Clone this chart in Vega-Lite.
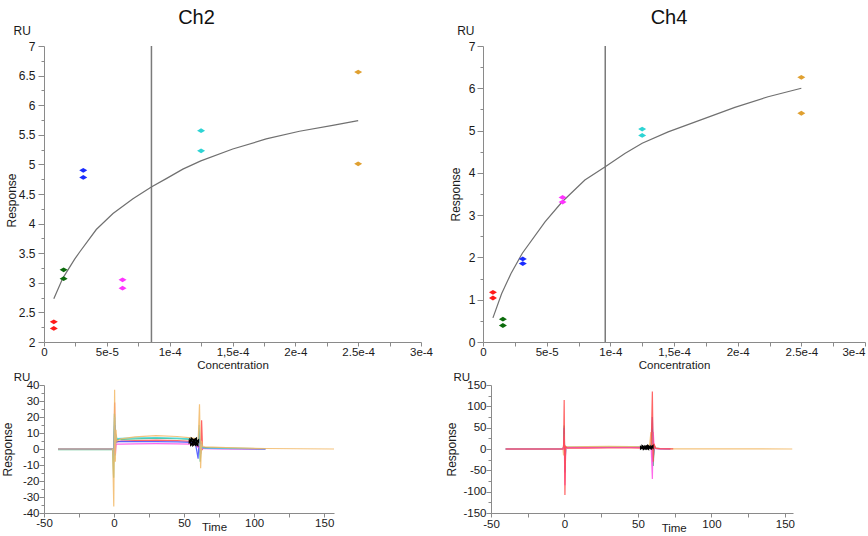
{
"$schema": "https://vega.github.io/schema/vega-lite/v6.json",
"padding": {"left": 1, "top": 8, "right": 0, "bottom": 0},
"config": {
  "font": "Liberation Sans",
  "view": {"stroke": null},
  "axis": {"grid": false, "domainColor": "#8a8a8a", "tickColor": "#8a8a8a", "labelColor": "#1a1a1a", "titleColor": "#1a1a1a", "labelFont": "Liberation Sans", "titleFont": "Liberation Sans", "titleFontWeight": "normal", "labelFontSize": 12, "titleFontSize": 12, "labelFlush": false, "labelOverlap": false},
  "title": {"font": "Liberation Sans", "fontWeight": "normal", "fontSize": 20, "color": "#111111"}
},
"datasets": {
  "pts2": [
    {"grp":"c1","conc":0.0000078125,"resp":2.34},{"grp":"c1","conc":0.0000078125,"resp":2.23},
    {"grp":"c2","conc":0.000015625,"resp":3.22},{"grp":"c2","conc":0.000015625,"resp":3.07},
    {"grp":"c3","conc":0.00003125,"resp":4.90},{"grp":"c3","conc":0.00003125,"resp":4.78},
    {"grp":"c4","conc":0.0000625,"resp":3.05},{"grp":"c4","conc":0.0000625,"resp":2.91},
    {"grp":"c5","conc":0.000125,"resp":5.57},{"grp":"c5","conc":0.000125,"resp":5.23},
    {"grp":"c6","conc":0.00025,"resp":6.56},{"grp":"c6","conc":0.00025,"resp":5.01}
  ],
  "pts4": [
    {"grp":"c1","conc":0.0000078125,"resp":1.175},{"grp":"c1","conc":0.0000078125,"resp":1.04},
    {"grp":"c2","conc":0.000015625,"resp":0.54},{"grp":"c2","conc":0.000015625,"resp":0.39},
    {"grp":"c3","conc":0.00003125,"resp":1.965},{"grp":"c3","conc":0.00003125,"resp":1.855},
    {"grp":"c4","conc":0.0000625,"resp":3.42},{"grp":"c4","conc":0.0000625,"resp":3.31},
    {"grp":"c5","conc":0.000125,"resp":5.035},{"grp":"c5","conc":0.000125,"resp":4.885},
    {"grp":"c6","conc":0.00025,"resp":6.26},{"grp":"c6","conc":0.00025,"resp":5.41}
  ],
  "fit2": [
    {"conc":0.0000078,"resp":2.73},{"conc":0.000015,"resp":3.08},{"conc":0.0000244,"resp":3.40},
    {"conc":0.0000284,"resp":3.52},{"conc":0.0000416,"resp":3.90},{"conc":0.0000549,"resp":4.17},
    {"conc":0.0000708,"resp":4.42},{"conc":0.0000854,"resp":4.62},{"conc":0.0000973,"resp":4.76},
    {"conc":0.0001105,"resp":4.92},{"conc":0.0001248,"resp":5.06},{"conc":0.0001502,"resp":5.26},
    {"conc":0.0001768,"resp":5.43},{"conc":0.0002033,"resp":5.56},{"conc":0.0002297,"resp":5.66},
    {"conc":0.00025,"resp":5.74}
  ],
  "fit4": [
    {"conc":0.0000078,"resp":0.57},{"conc":0.0000146,"resp":1.14},{"conc":0.000022,"resp":1.62},
    {"conc":0.0000309,"resp":2.10},{"conc":0.0000487,"resp":2.84},{"conc":0.000062,"resp":3.31},
    {"conc":0.00008,"resp":3.83},{"conc":0.0000957,"resp":4.14},{"conc":0.0001114,"resp":4.46},
    {"conc":0.000125,"resp":4.70},{"conc":0.0001454,"resp":4.97},{"conc":0.0001716,"resp":5.26},
    {"conc":0.0001978,"resp":5.55},{"conc":0.0002239,"resp":5.80},{"conc":0.00025,"resp":6.00}
  ],
  "kd2": [{"kd":0.0000855}],
  "kd4": [{"kd":0.000096}],
  "sg2": [
    {"s":"s1","t":-40,"r":0},{"s":"s1","t":-1,"r":0},{"s":"s1","t":0,"r":-2},{"s":"s1","t":0.4,"r":29},{"s":"s1","t":0.8,"r":1},{"s":"s1","t":1.3,"r":9},{"s":"s1","t":2,"r":4.5},{"s":"s1","t":5,"r":5},{"s":"s1","t":15,"r":5.2},{"s":"s1","t":30,"r":5.5},{"s":"s1","t":45,"r":5.2},{"s":"s1","t":55,"r":4.8},{"s":"s1","t":58,"r":4.4},{"s":"s1","t":60,"r":2},{"s":"s1","t":61,"r":6},{"s":"s1","t":61.8,"r":-3},{"s":"s1","t":62.5,"r":18},{"s":"s1","t":63.2,"r":0},{"s":"s1","t":64,"r":1},{"s":"s1","t":68,"r":0.6},{"s":"s1","t":80,"r":0.3},{"s":"s1","t":108,"r":0.1},
    {"s":"s2","t":-40,"r":-0.4},{"s":"s2","t":-1,"r":-0.3},{"s":"s2","t":-0.3,"r":-18},{"s":"s2","t":0.3,"r":22},{"s":"s2","t":0.8,"r":-4},{"s":"s2","t":1.3,"r":8},{"s":"s2","t":2,"r":6},{"s":"s2","t":5,"r":6},{"s":"s2","t":15,"r":6.3},{"s":"s2","t":30,"r":6.8},{"s":"s2","t":45,"r":6.4},{"s":"s2","t":55,"r":6},{"s":"s2","t":58,"r":5.6},{"s":"s2","t":60,"r":3},{"s":"s2","t":60.8,"r":12},{"s":"s2","t":61.5,"r":-8},{"s":"s2","t":62.3,"r":3},{"s":"s2","t":63,"r":1},{"s":"s2","t":65,"r":0.9},{"s":"s2","t":80,"r":0.5},{"s":"s2","t":108,"r":0.2},
    {"s":"s3","t":-40,"r":0},{"s":"s3","t":-1,"r":0},{"s":"s3","t":0,"r":-3},{"s":"s3","t":0.4,"r":15},{"s":"s3","t":0.8,"r":1},{"s":"s3","t":1.3,"r":6},{"s":"s3","t":2,"r":4.5},{"s":"s3","t":5,"r":4.8},{"s":"s3","t":15,"r":4.6},{"s":"s3","t":30,"r":4.6},{"s":"s3","t":45,"r":4.4},{"s":"s3","t":55,"r":4.2},{"s":"s3","t":58,"r":4},{"s":"s3","t":60,"r":-6},{"s":"s3","t":60.8,"r":9},{"s":"s3","t":61.5,"r":-2},{"s":"s3","t":62.3,"r":4},{"s":"s3","t":63,"r":0.5},{"s":"s3","t":65,"r":0.4},{"s":"s3","t":80,"r":0.2},{"s":"s3","t":108,"r":0},
    {"s":"s4","t":-40,"r":0},{"s":"s4","t":-1,"r":0},{"s":"s4","t":0,"r":-4},{"s":"s4","t":0.4,"r":9},{"s":"s4","t":1,"r":-3},{"s":"s4","t":1.5,"r":3},{"s":"s4","t":2,"r":3},{"s":"s4","t":5,"r":3.1},{"s":"s4","t":15,"r":3.2},{"s":"s4","t":30,"r":3.3},{"s":"s4","t":45,"r":3.2},{"s":"s4","t":55,"r":3.1},{"s":"s4","t":58,"r":2.9},{"s":"s4","t":60,"r":1},{"s":"s4","t":60.8,"r":5},{"s":"s4","t":61.5,"r":-3},{"s":"s4","t":62.3,"r":2},{"s":"s4","t":63,"r":0.3},{"s":"s4","t":65,"r":0.2},{"s":"s4","t":80,"r":0.1},{"s":"s4","t":108,"r":0},
    {"s":"s5","t":-40,"r":0},{"s":"s5","t":-1,"r":0},{"s":"s5","t":-0.2,"r":-8},{"s":"s5","t":0.4,"r":20},{"s":"s5","t":0.8,"r":3},{"s":"s5","t":1.3,"r":9},{"s":"s5","t":2,"r":6.5},{"s":"s5","t":5,"r":6.7},{"s":"s5","t":15,"r":6.9},{"s":"s5","t":30,"r":7.1},{"s":"s5","t":45,"r":6.8},{"s":"s5","t":55,"r":6.3},{"s":"s5","t":58,"r":6},{"s":"s5","t":60,"r":2},{"s":"s5","t":60.8,"r":15},{"s":"s5","t":61.5,"r":-4},{"s":"s5","t":62.3,"r":3},{"s":"s5","t":63,"r":0.8},{"s":"s5","t":65,"r":0.6},{"s":"s5","t":80,"r":0.3},{"s":"s5","t":108,"r":0.1},
    {"s":"s6","t":-40,"r":0},{"s":"s6","t":-1,"r":0},{"s":"s6","t":-0.2,"r":-36},{"s":"s6","t":0.4,"r":37},{"s":"s6","t":0.9,"r":-8},{"s":"s6","t":1.4,"r":12},{"s":"s6","t":2,"r":5},{"s":"s6","t":5,"r":6.3},{"s":"s6","t":15,"r":7.6},{"s":"s6","t":30,"r":8.4},{"s":"s6","t":45,"r":7.8},{"s":"s6","t":55,"r":7},{"s":"s6","t":58,"r":6.5},{"s":"s6","t":60,"r":4},{"s":"s6","t":61,"r":28},{"s":"s6","t":61.8,"r":-12},{"s":"s6","t":62.5,"r":5},{"s":"s6","t":63.3,"r":1.5},{"s":"s6","t":65,"r":1.3},{"s":"s6","t":80,"r":0.8},{"s":"s6","t":108,"r":0.3},{"s":"s6","t":157,"r":0}
  ],
  "sg4": [
    {"s":"s2","t":-40,"r":0},{"s":"s2","t":-1,"r":0},{"s":"s2","t":-0.6,"r":5},{"s":"s2","t":-0.2,"r":55},{"s":"s2","t":0.3,"r":-50},{"s":"s2","t":0.8,"r":4},{"s":"s2","t":2,"r":3},{"s":"s2","t":15,"r":3.5},{"s":"s2","t":30,"r":4},{"s":"s2","t":45,"r":4},{"s":"s2","t":55,"r":3.8},{"s":"s2","t":59,"r":4},{"s":"s2","t":59.8,"r":50},{"s":"s2","t":60.4,"r":-40},{"s":"s2","t":61,"r":8},{"s":"s2","t":62,"r":2},{"s":"s2","t":65,"r":1},{"s":"s2","t":72,"r":0.5},
    {"s":"s3","t":-40,"r":0},{"s":"s3","t":-1,"r":0},{"s":"s3","t":-0.6,"r":5},{"s":"s3","t":-0.2,"r":50},{"s":"s3","t":0.3,"r":-55},{"s":"s3","t":0.8,"r":3},{"s":"s3","t":2,"r":3.5},{"s":"s3","t":15,"r":3.6},{"s":"s3","t":30,"r":3.9},{"s":"s3","t":45,"r":3.9},{"s":"s3","t":55,"r":3.6},{"s":"s3","t":59,"r":5},{"s":"s3","t":59.8,"r":75},{"s":"s3","t":60.4,"r":-20},{"s":"s3","t":61,"r":5},{"s":"s3","t":62,"r":1.5},{"s":"s3","t":65,"r":0.8},{"s":"s3","t":72,"r":0.3},
    {"s":"s5","t":-40,"r":0},{"s":"s5","t":-1,"r":0},{"s":"s5","t":-0.6,"r":3},{"s":"s5","t":-0.2,"r":35},{"s":"s5","t":0.3,"r":-40},{"s":"s5","t":0.8,"r":3},{"s":"s5","t":2,"r":4.5},{"s":"s5","t":15,"r":4.6},{"s":"s5","t":30,"r":5},{"s":"s5","t":45,"r":5},{"s":"s5","t":55,"r":4.8},{"s":"s5","t":59,"r":5},{"s":"s5","t":59.8,"r":40},{"s":"s5","t":60.4,"r":-25},{"s":"s5","t":61,"r":5},{"s":"s5","t":62,"r":1.5},{"s":"s5","t":65,"r":0.8},{"s":"s5","t":72,"r":0.3},
    {"s":"s6","t":-40,"r":0},{"s":"s6","t":-1,"r":0},{"s":"s6","t":-0.6,"r":-15},{"s":"s6","t":-0.2,"r":20},{"s":"s6","t":0.3,"r":-5},{"s":"s6","t":0.8,"r":4},{"s":"s6","t":2,"r":5},{"s":"s6","t":15,"r":5.5},{"s":"s6","t":30,"r":6},{"s":"s6","t":45,"r":5.8},{"s":"s6","t":55,"r":5.2},{"s":"s6","t":58,"r":10},{"s":"s6","t":58.8,"r":40},{"s":"s6","t":59.6,"r":-20},{"s":"s6","t":60.5,"r":15},{"s":"s6","t":61.5,"r":3},{"s":"s6","t":63,"r":1},{"s":"s6","t":75,"r":0.5},{"s":"s6","t":155,"r":0},
    {"s":"s4","t":-40,"r":0},{"s":"s4","t":-1,"r":0},{"s":"s4","t":-0.6,"r":3},{"s":"s4","t":-0.2,"r":30},{"s":"s4","t":0.3,"r":-85},{"s":"s4","t":0.8,"r":2},{"s":"s4","t":2,"r":3},{"s":"s4","t":15,"r":3.1},{"s":"s4","t":30,"r":3.5},{"s":"s4","t":45,"r":3.5},{"s":"s4","t":55,"r":3.2},{"s":"s4","t":59,"r":3},{"s":"s4","t":59.8,"r":-70},{"s":"s4","t":60.4,"r":40},{"s":"s4","t":61,"r":5},{"s":"s4","t":62,"r":1},{"s":"s4","t":65,"r":0.5},{"s":"s4","t":72,"r":0.2},
    {"s":"s1","t":-40,"r":0},{"s":"s1","t":-1,"r":0},{"s":"s1","t":-0.6,"r":10},{"s":"s1","t":-0.2,"r":115},{"s":"s1","t":0.3,"r":-108},{"s":"s1","t":0.8,"r":6},{"s":"s1","t":2,"r":2},{"s":"s1","t":15,"r":2.2},{"s":"s1","t":30,"r":2.4},{"s":"s1","t":45,"r":2.4},{"s":"s1","t":55,"r":2.2},{"s":"s1","t":59,"r":3},{"s":"s1","t":59.8,"r":135},{"s":"s1","t":60.4,"r":-30},{"s":"s1","t":61,"r":12},{"s":"s1","t":62,"r":2},{"s":"s1","t":65,"r":1},{"s":"s1","t":74,"r":0.5}
  ],
  "mk2": [{"t":55.5,"r":4.5},{"t":56.5,"r":3},{"t":57,"r":6},{"t":57.5,"r":4},{"t":58.5,"r":5},{"t":56,"r":5.5},{"t":58,"r":2.8}],
  "mk4": [{"t":53.5,"r":3},{"t":54.5,"r":5},{"t":55.5,"r":2},{"t":56.5,"r":4},{"t":57.5,"r":3},{"t":58.5,"r":5},{"t":55,"r":4}]
},
"spacing": 0,
"vconcat": [
  {"spacing": 16, "hconcat": [
    {"width": 377, "height": 296,
     "title": {"text": "Ch2", "frame": "group", "dx": -36, "offset": -4},
     "layer": [
       {"data": {"name": "kd2"}, "mark": {"type": "rule", "color": "#7a7a7a", "strokeWidth": 1.5},
        "encoding": {"x": {"field": "kd", "type": "quantitative", "scale": {"domain": [0, 0.0003], "nice": false, "zero": false}, "axis": null}}},
       {"data": {"name": "fit2"}, "mark": {"type": "line", "color": "#707070", "strokeWidth": 1.2},
        "encoding": {
          "x": {"field": "conc", "type": "quantitative", "axis": null},
          "y": {"field": "resp", "type": "quantitative", "scale": {"domain": [2, 7], "nice": false, "zero": false},
                "axis": {"orient": "left", "title": "RU", "titleAngle": 0, "titleAlign": "left", "titleBaseline": "alphabetic", "titleX": -31, "titleY": -11.7, "labels": false, "domain": false, "tickSize": 3, "values": [2.25,2.75,3.25,3.75,4.25,4.75,5.25,5.75,6.25,6.75]}}}},
       {"data": {"name": "pts2"}, "mark": {"type": "point", "filled": true, "opacity": 1, "size": 64, "strokeWidth": 0, "shape": "M-1,0L0,-0.6L1,0L0,0.6Z"},
        "encoding": {
          "x": {"field": "conc", "type": "quantitative", "title": "Concentration",
                "axis": {"orient": "bottom", "values": [0,0.000025,0.00005,0.000075,0.0001,0.000125,0.00015,0.000175,0.0002,0.000225,0.00025,0.000275,0.0003], "labelExpr": "round(datum.value*1e6)==0?'0':round(datum.value*1e6)==50?'5e-5':round(datum.value*1e6)==100?'1e-4':round(datum.value*1e6)==150?'1,5e-4':round(datum.value*1e6)==200?'2e-4':round(datum.value*1e6)==250?'2.5e-4':round(datum.value*1e6)==300?'3e-4':''", "tickSize": 4, "labelPadding": 0.5, "labelFontSize": 11.5, "titleFontSize": 11.5, "titleBaseline": "alphabetic", "titleY": 26}},
          "y": {"field": "resp", "type": "quantitative",
                "axis": {"orient": "left", "title": "Response", "titleAngle": 270, "titleBaseline": "alphabetic", "titleX": -29, "titleY": 154, "values": [2,2.5,3,3.5,4,4.5,5,5.5,6,6.5,7], "labelExpr": "'' + datum.value", "tickSize": 6, "labelPadding": 3}},
          "fill": {"field": "grp", "type": "nominal", "scale": {"domain": ["c1","c2","c3","c4","c5","c6"], "range": ["#ff1a1a","#0b6b0b","#1a2cff","#ff33ff","#2dd4d4","#e0a030"]}, "legend": null}}}
     ],
     "resolve": {"axis": {"x": "independent", "y": "independent"}}
    },
    {"width": 382, "height": 296,
     "title": {"text": "Ch4", "frame": "group", "dx": -5, "offset": -4},
     "layer": [
       {"data": {"name": "kd4"}, "mark": {"type": "rule", "color": "#7a7a7a", "strokeWidth": 1.5},
        "encoding": {"x": {"field": "kd", "type": "quantitative", "scale": {"domain": [0, 0.0003], "nice": false, "zero": false}, "axis": null}}},
       {"data": {"name": "fit4"}, "mark": {"type": "line", "color": "#707070", "strokeWidth": 1.2},
        "encoding": {
          "x": {"field": "conc", "type": "quantitative", "axis": null},
          "y": {"field": "resp", "type": "quantitative", "scale": {"domain": [0, 7], "nice": false, "zero": false},
                "axis": {"orient": "left", "title": "RU", "titleAngle": 0, "titleAlign": "left", "titleBaseline": "alphabetic", "titleX": -26.3, "titleY": -11.7, "labels": false, "domain": false, "tickSize": 3, "values": [0.5,1.5,2.5,3.5,4.5,5.5,6.5]}}}},
       {"data": {"name": "pts4"}, "mark": {"type": "point", "filled": true, "opacity": 1, "size": 64, "strokeWidth": 0, "shape": "M-1,0L0,-0.6L1,0L0,0.6Z"},
        "encoding": {
          "x": {"field": "conc", "type": "quantitative", "title": "Concentration",
                "axis": {"orient": "bottom", "values": [0,0.000025,0.00005,0.000075,0.0001,0.000125,0.00015,0.000175,0.0002,0.000225,0.00025,0.000275,0.0003], "labelExpr": "round(datum.value*1e6)==0?'0':round(datum.value*1e6)==50?'5e-5':round(datum.value*1e6)==100?'1e-4':round(datum.value*1e6)==150?'1,5e-4':round(datum.value*1e6)==200?'2e-4':round(datum.value*1e6)==250?'2.5e-4':round(datum.value*1e6)==300?'3e-4':''", "labelAlign": {"condition": {"test": "datum.value > 0.00029", "value": "right"}, "value": "center"}, "tickSize": 4, "labelPadding": 0.5, "labelFontSize": 11.5, "titleFontSize": 11.5, "titleBaseline": "alphabetic", "titleY": 26}},
          "y": {"field": "resp", "type": "quantitative",
                "axis": {"orient": "left", "title": "Response", "titleAngle": 270, "titleBaseline": "alphabetic", "titleX": -24, "values": [0,1,2,3,4,5,6,7], "labelExpr": "'' + datum.value", "tickSize": 6, "labelPadding": 2}},
          "fill": {"field": "grp", "type": "nominal", "scale": {"domain": ["c1","c2","c3","c4","c5","c6"], "range": ["#ff1a1a","#0b6b0b","#1a2cff","#ff33ff","#2dd4d4","#e0a030"]}, "legend": null}}}
     ],
     "resolve": {"axis": {"x": "independent", "y": "independent"}}
    }
  ]},
  {"spacing": 108, "hconcat": [
    {"width": 290, "height": 128,
     "layer": [
       {"data": {"name": "sg2"}, "mark": {"type": "line", "strokeWidth": 1.2, "opacity": 0.85},
        "encoding": {
          "x": {"field": "t", "type": "quantitative", "scale": {"domain": [-50, 157], "nice": false, "zero": false}, "title": "Time",
                "axis": {"orient": "bottom", "values": [-50,-25,0,25,50,75,100,125,150], "labelExpr": "datum.value % 50 == 0 ? '' + datum.value : ''", "tickSize": 4, "labelPadding": 0, "labelFontSize": 11.5, "titleFontSize": 11.5, "titleBaseline": "alphabetic", "titleX": 170, "titleY": 17.7}},
          "y": {"field": "r", "type": "quantitative", "scale": {"domain": [-40, 40], "nice": false, "zero": false}, "title": "Response",
                "axis": {"orient": "left", "values": [-40,-30,-20,-10,0,10,20,30,40], "labelExpr": "'' + datum.value", "tickSize": 5, "labelPadding": 0, "labelFontSize": 11.5, "titleFontSize": 12, "titleAngle": 270, "titleBaseline": "alphabetic", "titleX": -32.2}},
          "stroke": {"field": "s", "type": "nominal", "scale": {"domain": ["s1","s2","s3","s4","s5","s6"], "range": ["#ff4a4a","#3cb878","#3f4cff","#ff4fe6","#3fd6e0","#f2b866"]}, "legend": null}}},
       {"data": {"name": "mk2"}, "mark": {"type": "point", "filled": true, "color": "black", "opacity": 1, "size": 40, "shape": "M-1,-0.8L1,0.8L1,-0.8L-1,0.8Z"},
        "encoding": {
          "x": {"field": "t", "type": "quantitative", "axis": null},
          "y": {"field": "r", "type": "quantitative",
                "axis": {"orient": "left", "title": "RU", "titleFontSize": 11.5, "titleAngle": 0, "titleAlign": "left", "titleBaseline": "alphabetic", "titleX": -30.8, "titleY": -5, "labels": false, "domain": false, "tickSize": 3, "values": [-35,-25,-15,-5,5,15,25,35]}}}}
     ],
     "resolve": {"axis": {"x": "independent", "y": "independent"}}
    },
    {"width": 302, "height": 128,
     "layer": [
       {"data": {"name": "sg4"}, "mark": {"type": "line", "strokeWidth": 1.2, "opacity": 0.85},
        "encoding": {
          "x": {"field": "t", "type": "quantitative", "scale": {"domain": [-50, 155.5], "nice": false, "zero": false}, "title": "Time",
                "axis": {"orient": "bottom", "values": [-50,-25,0,25,50,75,100,125,150], "labelExpr": "datum.value % 50 == 0 ? '' + datum.value : ''", "tickSize": 4, "labelPadding": 1, "labelFontSize": 11.5, "titleFontSize": 11.5, "titleBaseline": "alphabetic", "titleX": 182.7, "titleY": 18.4}},
          "y": {"field": "r", "type": "quantitative", "scale": {"domain": [-150, 150], "nice": false, "zero": false}, "title": "Response",
                "axis": {"orient": "left", "values": [-150,-100,-50,0,50,100,150], "labelExpr": "'' + datum.value", "tickSize": 5, "labelPadding": 0, "labelFontSize": 11.5, "titleFontSize": 12, "titleAngle": 270, "titleBaseline": "alphabetic", "titleX": -36}},
          "stroke": {"field": "s", "type": "nominal", "scale": {"domain": ["s1","s2","s3","s4","s5","s6"], "range": ["#ff4a4a","#3cb878","#3f4cff","#ff4fe6","#3fd6e0","#f2b866"]}, "legend": null}}},
       {"data": {"name": "mk4"}, "mark": {"type": "point", "filled": true, "color": "black", "opacity": 1, "size": 40, "shape": "M-1,-0.8L1,0.8L1,-0.8L-1,0.8Z"},
        "encoding": {
          "x": {"field": "t", "type": "quantitative", "axis": null},
          "y": {"field": "r", "type": "quantitative",
                "axis": {"orient": "left", "title": "RU", "titleFontSize": 11.5, "titleAngle": 0, "titleAlign": "left", "titleBaseline": "alphabetic", "titleX": -38, "titleY": -5, "labels": false, "domain": false, "tickSize": 3, "values": [-125,-75,-25,25,75,125]}}}}
     ],
     "resolve": {"axis": {"x": "independent", "y": "independent"}}
    }
  ]}
]
}
